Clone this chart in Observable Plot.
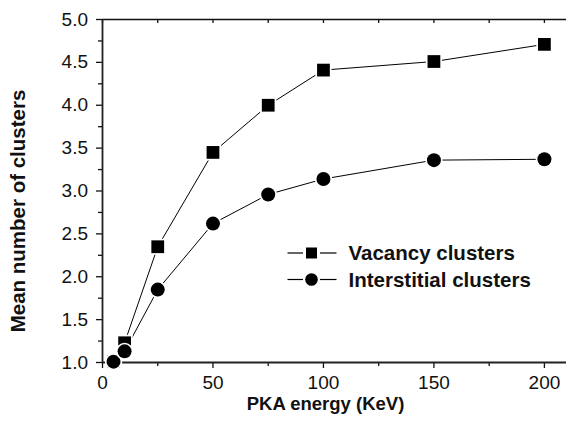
<!DOCTYPE html>
<html><head><meta charset="utf-8">
<script src="https://cdn.jsdelivr.net/npm/d3@7"></script>
<script src="https://cdn.jsdelivr.net/npm/@observablehq/plot@0.6"></script>
<style>
body{margin:0;background:#fff;}
#wrap{position:relative;width:566px;height:434px;}
#legend{position:absolute;left:0;top:0;}
</style></head><body><div id="wrap"></div>
<script>
const energy = [5, 10, 25, 50, 75, 100, 150, 200];
const vacancy = [1.01, 1.23, 2.35, 3.45, 4.0, 4.41, 4.51, 4.71];
const interstitial = [1.01, 1.13, 1.85, 2.62, 2.96, 3.14, 3.36, 3.37];
const seriesNames = ["Vacancy clusters", "Interstitial clusters"];
const xMajor = [0, 50, 100, 150, 200];
const xMinor = [25, 75, 125, 175];
const yMajor = [1, 1.5, 2, 2.5, 3, 3.5, 4, 4.5, 5];
const yMinor = [1.25, 1.75, 2.25, 2.75, 3.25, 3.75, 4.25, 4.75];
const xLabel = "PKA energy (KeV)";
const yLabel = "Mean number of clusters";

const vac = energy.map((e, i) => ({x: e, y: vacancy[i]}));
const int = energy.map((e, i) => ({x: e, y: interstitial[i]}));
const font = "'Liberation Sans', Arial, Helvetica, sans-serif";
const tickFontSize = 19;

const chart = Plot.plot({
  width: 566, height: 434,
  marginLeft: 102, marginRight: 0, marginTop: 19, marginBottom: 72,
  x: {domain: [0, 210]},
  y: {domain: [1, 5]},
  style: {fontFamily: font, fontSize: "19px", color: "#111", background: "#fff"},
  marks: [
    Plot.axisX(xMajor, {tickSize: 6, tickFormat: () => "", label: null, strokeWidth: 1.3}),
    Plot.axisX(xMinor, {tickSize: 4, tickFormat: () => "", label: null, strokeWidth: 1.3}),
    Plot.axisY(yMajor, {tickSize: 6, tickFormat: () => "", label: null, strokeWidth: 1.3}),
    Plot.axisY(yMinor, {tickSize: 4, tickFormat: () => "", label: null, strokeWidth: 1.3}),
    Plot.text(xMajor, {x: d => d, text: d => String(d), frameAnchor: "bottom", lineAnchor: "top", dy: 13, fontSize: tickFontSize, fill: "#111"}),
    Plot.text(yMajor, {y: d => d, text: d => d.toFixed(1), frameAnchor: "left", textAnchor: "end", dx: -14.5, fontSize: tickFontSize, fill: "#111"}),
    Plot.tickX([...xMajor, ...xMinor], {x: d => d, insetBottom: 339, stroke: "#111", strokeWidth: 1.3}),
    Plot.ruleY([5], {stroke: "#111", strokeWidth: 1.5}),
    Plot.ruleY([1], {stroke: "#222", strokeWidth: 1.8}),
    Plot.ruleX([0], {stroke: "#222", strokeWidth: 1.8}),
    Plot.line(vac, {x: "x", y: "y", stroke: "#000", strokeWidth: 1}),
    Plot.line(int, {x: "x", y: "y", stroke: "#000", strokeWidth: 1}),
    Plot.dot(vac, {x: "x", y: "y", symbol: "square", r: 7.2, fill: "#000", stroke: "#fff", strokeWidth: 3.4, paintOrder: "stroke"}),
    Plot.dot(int, {x: "x", y: "y", symbol: "circle", r: 7, fill: "#000", stroke: "#fff", strokeWidth: 3.4, paintOrder: "stroke"}),
    Plot.text([xLabel], {frameAnchor: "bottom", dy: 47, dx: -9, fontWeight: "bold", fontSize: 18.5, fill: "#111"}),
    Plot.text([yLabel], {frameAnchor: "left", textAnchor: "middle", rotate: -90, dx: -84, dy: 20, fontWeight: "bold", fontSize: 20.5, fill: "#111"})
  ]
});
const wrap = document.getElementById("wrap");
wrap.appendChild(chart);

// legend overlay
const lg = d3.select(wrap).append("svg").attr("id", "legend").attr("width", 566).attr("height", 434);
const rows = [{name: seriesNames[0], sym: "square", cy: 253}, {name: seriesNames[1], sym: "circle", cy: 279.5}];
rows.forEach(r => {
  lg.append("line").attr("x1", 287.5).attr("x2", 303).attr("y1", r.cy).attr("y2", r.cy).attr("stroke", "#000").attr("stroke-width", 1.2);
  lg.append("line").attr("x1", 320).attr("x2", 336.5).attr("y1", r.cy).attr("y2", r.cy).attr("stroke", "#000").attr("stroke-width", 1.2);
  if (r.sym === "square") {
    lg.append("rect").attr("x", 311.5 - 5.5).attr("y", r.cy - 5.5).attr("width", 11).attr("height", 11).attr("fill", "#000");
  } else {
    lg.append("circle").attr("cx", 311.5).attr("cy", r.cy).attr("r", 6.3).attr("fill", "#000");
  }
  lg.append("text").attr("x", 348.5).attr("y", r.cy + 7).attr("font-family", font).attr("font-weight", "bold").attr("font-size", 20.5).attr("fill", "#111").text(r.name);
});
</script></body></html>
